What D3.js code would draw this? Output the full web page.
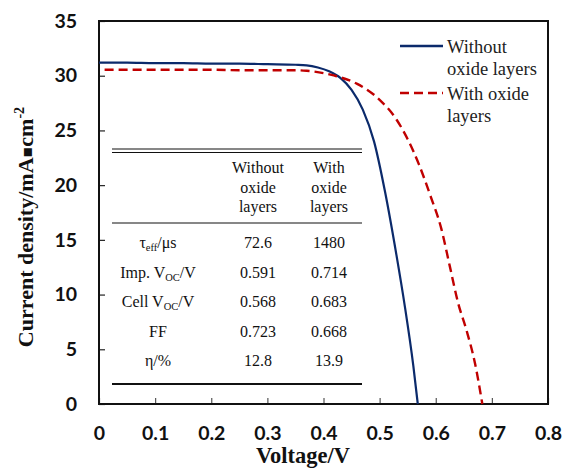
<!DOCTYPE html>
<html>
<head>
<meta charset="utf-8">
<script src="https://cdn.jsdelivr.net/npm/d3@7"></script>
<style>
  body { margin: 0; background: #fff; }
  svg { display: block; }
</style>
</head>
<body>
<div id="chart"></div>
<script>
// J-V curves
const voltWithout = [0, 0.05, 0.1, 0.15, 0.2, 0.25, 0.3, 0.35, 0.37, 0.39, 0.41, 0.43, 0.45, 0.47, 0.49, 0.51, 0.53, 0.545, 0.56, 0.568];
const currWithout = [31.2, 31.2, 31.15, 31.15, 31.1, 31.1, 31.05, 31.0, 30.95, 30.75, 30.4, 29.8, 28.7, 26.9, 24.0, 19.3, 13.6, 8.9, 3.5, 0];

const voltWith = [0.01, 0.05, 0.1, 0.15, 0.2, 0.25, 0.3, 0.35, 0.37, 0.42, 0.46, 0.50, 0.53, 0.55, 0.57, 0.59, 0.61, 0.625, 0.64, 0.655, 0.67, 0.683];
const currWith = [30.55, 30.55, 30.55, 30.55, 30.55, 30.5, 30.5, 30.5, 30.45, 30.0, 29.25, 27.8, 26.0, 24.2, 21.9, 19.1, 16.0, 12.6, 9.2, 6.7, 3.7, 0];

const xTicks = [0, 0.1, 0.2, 0.3, 0.4, 0.5, 0.6, 0.7, 0.8];
const yTicks = [0, 5, 10, 15, 20, 25, 30, 35];

const legendLabels = [["Without", "oxide layers"], ["With oxide", "layers"]];

// inset table
const tableHeader = [["Without", "oxide", "layers"], ["With", "oxide", "layers"]];
const rowLabels = [
  [["τ", ""], ["eff", "sub"], ["/μs", ""]],
  [["Imp. V", ""], ["OC", "sub"], ["/V", ""]],
  [["Cell V", ""], ["OC", "sub"], ["/V", ""]],
  [["FF", ""]],
  [["η/%", ""]]
];
const valuesWithout = ["72.6", "0.591", "0.568", "0.723", "12.8"];
const valuesWith = ["1480", "0.714", "0.683", "0.668", "13.9"];

const W = 564, H = 469;
const margin = { left: 99, right: 16, top: 21, bottom: 65 };

const svg = d3.select("#chart").append("svg")
  .attr("width", W).attr("height", H);

const x = d3.scaleLinear().domain([0, 0.8]).range([margin.left, W - margin.right]);
const y = d3.scaleLinear().domain([0, 35]).range([H - margin.bottom, margin.top]);

const tickFont = "Lato, 'Liberation Sans', Arial, sans-serif";
const serif = "'Liberation Serif', 'Times New Roman', serif";

// axes with inward ticks
const xAxis = svg.append("g")
  .attr("transform", `translate(0,${y(0)})`)
  .call(d3.axisBottom(x).tickValues(xTicks).tickSizeInner(-6).tickSizeOuter(0)
    .tickFormat(d => d === 0 ? "0" : d3.format(".1f")(d)).tickPadding(22));
xAxis.select(".domain").remove();
xAxis.selectAll("line").attr("stroke", "#555").attr("stroke-width", 1.2);
xAxis.selectAll("text")
  .attr("font-family", tickFont).attr("font-weight", "bold")
  .attr("font-size", 19.5).attr("fill", "#111");

const yAxis = svg.append("g")
  .attr("transform", `translate(${x(0)},0)`)
  .call(d3.axisLeft(y).tickValues(yTicks).tickSizeInner(-6).tickSizeOuter(0).tickPadding(22));
yAxis.select(".domain").remove();
yAxis.selectAll("line").attr("stroke", "#222").attr("stroke-width", 1.2);
yAxis.selectAll("text")
  .attr("font-family", tickFont).attr("font-weight", "bold")
  .attr("font-size", 19.5).attr("fill", "#111");

// plot frame
svg.append("rect")
  .attr("x", x(0)).attr("y", y(35))
  .attr("width", x(0.8) - x(0)).attr("height", y(0) - y(35))
  .attr("fill", "none").attr("stroke", "#111").attr("stroke-width", 2);

// curves
const line = d3.line()
  .x(d => x(d[0])).y(d => y(d[1]))
  .curve(d3.curveMonotoneX);

svg.append("path")
  .datum(d3.zip(voltWithout, currWithout))
  .attr("d", line)
  .attr("fill", "none").attr("stroke", "#0b2a6b").attr("stroke-width", 2.2);

svg.append("path")
  .datum(d3.zip(voltWith, currWith))
  .attr("d", line)
  .attr("fill", "none").attr("stroke", "#c00000").attr("stroke-width", 2.4)
  .attr("stroke-dasharray", "9,5");

// legend
const legend = svg.append("g");
const legendStyles = [
  { color: "#0b2a6b", dash: null, y: 46 },
  { color: "#c00000", dash: "9,5", y: 93 }
];
legendStyles.forEach((s, i) => {
  legend.append("line")
    .attr("x1", 400).attr("x2", 443).attr("y1", s.y).attr("y2", s.y)
    .attr("stroke", s.color).attr("stroke-width", 2.4)
    .attr("stroke-dasharray", s.dash);
  legend.append("text")
    .attr("font-family", serif).attr("font-size", 18.5).attr("fill", "#222")
    .selectAll("tspan").data(legendLabels[i]).join("tspan")
    .attr("x", 447).attr("y", (d, j) => s.y + 7 + j * 21.5)
    .text(d => d);
});

// inset table
const table = svg.append("g").attr("font-family", serif).attr("font-size", 16).attr("fill", "#111");
const tx0 = 112, tx1 = 362;
const colX = [158, 258, 329];

table.append("line").attr("x1", tx0).attr("x2", tx1).attr("y1", 149).attr("y2", 149)
  .attr("stroke", "#111").attr("stroke-width", 1.2);
table.append("line").attr("x1", tx0).attr("x2", tx1).attr("y1", 152.5).attr("y2", 152.5)
  .attr("stroke", "#111").attr("stroke-width", 1.2);
table.append("line").attr("x1", tx0).attr("x2", tx1).attr("y1", 223).attr("y2", 223)
  .attr("stroke", "#111").attr("stroke-width", 1.2);
table.append("line").attr("x1", tx0).attr("x2", tx1).attr("y1", 384).attr("y2", 384)
  .attr("stroke", "#111").attr("stroke-width", 2.2);

tableHeader.forEach((lines, c) => {
  table.append("text").attr("text-anchor", "middle")
    .selectAll("tspan").data(lines).join("tspan")
    .attr("x", colX[c + 1]).attr("y", (d, j) => 173 + j * 19.5)
    .text(d => d);
});

const rowY = i => 248 + i * 29.5;

rowLabels.forEach((parts, i) => {
  const t = table.append("text").attr("text-anchor", "middle")
    .attr("x", colX[0]).attr("y", rowY(i));
  parts.forEach(([txt, kind], k) => {
    const ts = t.append("tspan").text(txt);
    if (kind === "sub") ts.attr("font-size", 10.5).attr("dy", 3);
    else if (k > 0 && parts[k - 1][1] === "sub") ts.attr("dy", -3);
  });
});

valuesWithout.forEach((v, i) => {
  table.append("text").attr("text-anchor", "middle")
    .attr("x", colX[1]).attr("y", rowY(i)).text(v);
});
valuesWith.forEach((v, i) => {
  table.append("text").attr("text-anchor", "middle")
    .attr("x", colX[2]).attr("y", rowY(i)).text(v);
});

// axis titles
svg.append("text")
  .attr("x", 303).attr("y", 463)
  .attr("text-anchor", "middle")
  .attr("font-family", serif).attr("font-weight", "bold").attr("font-size", 22.5)
  .attr("fill", "#111")
  .text("Voltage/V");

const yTitle = svg.append("text")
  .attr("transform", "translate(33,227) rotate(-90)")
  .attr("text-anchor", "middle")
  .attr("font-family", serif).attr("font-weight", "bold").attr("font-size", 22)
  .attr("fill", "#111");
yTitle.append("tspan").text("Current density/mA");
yTitle.append("tspan").attr("font-family", "'DejaVu Sans', sans-serif").attr("font-size", 16).attr("dy", -1).text("▪");
yTitle.append("tspan").attr("dy", 1).text("cm");
yTitle.append("tspan").attr("font-size", 14).attr("dy", -9).text("-2");
</script>
</body>
</html>
